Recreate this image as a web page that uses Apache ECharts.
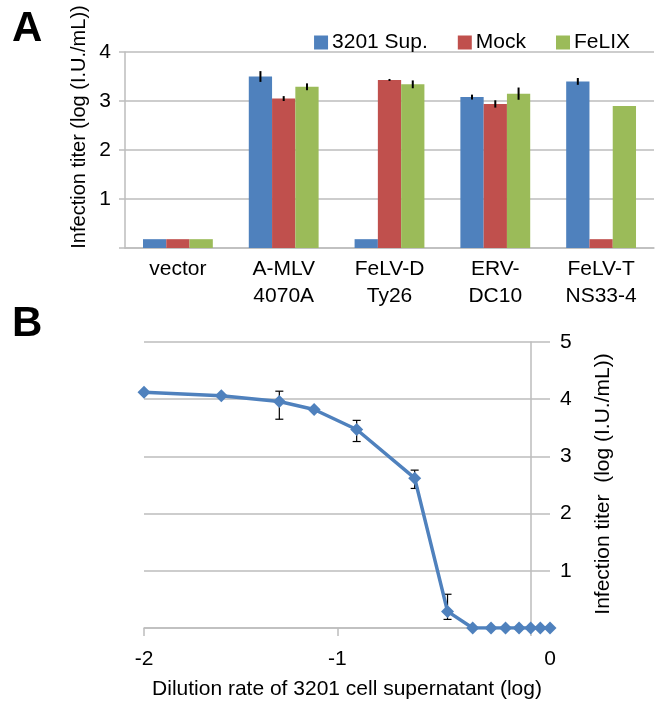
<!DOCTYPE html>
<html>
<head>
<meta charset="utf-8">
<script src="https://cdn.jsdelivr.net/npm/echarts@6/dist/echarts.min.js"></script>
<style>
html,body{margin:0;padding:0;background:#fff;}
#chart{width:665px;height:701px;}
</style>
</head>
<body>
<div id="chart"></div>
<script>
// ---- Panel A data ----
const categories = ['vector', 'A-MLV\n4070A', 'FeLV-D\nTy26', 'ERV-\nDC10', 'FeLV-T\nNS33-4'];
const seriesNames = ['3201 Sup.', 'Mock', 'FeLIX'];
const sup3201 = [0.18, 3.50, 0.18, 3.08, 3.40];
const mock    = [0.18, 3.05, 3.43, 2.94, 0.18];
const felix   = [0.18, 3.29, 3.34, 3.15, 2.90];
const sup3201Err = [0, 0.11, 0, 0.05, 0.07];
const mockErr    = [0, 0.05, 0.02, 0.075, 0];
const felixErr   = [0, 0.07, 0.08, 0.125, 0];
const yTicksA = [1, 2, 3, 4];

// ---- Panel B data ----
const dilutionLog = [-2, -1.6, -1.3, -1.12, -0.9, -0.6, -0.43, -0.3, -0.205, -0.13, -0.06, 0, 0.05, 0.1];
const titer       = [4.12, 4.06, 3.96, 3.82, 3.47, 2.62, 0.29, 0, 0, 0, 0, 0, 0, 0];
const titerLow    = [null, null, 3.65, null, 3.26, 2.44, 0.15, null, null, null, null, null, null, null];
const titerHigh   = [null, null, 4.14, null, 3.63, 2.76, 0.59, null, null, null, null, null, null, null];
const xTickValuesB = [-2, -1, 0];
const xLabelValuesB = [-2, -1, 0.1];
const xLabelTextsB = ['-2', '-1', '0'];
const yTicksB = [1, 2, 3, 4, 5];

const FONT = '"Liberation Sans", Arial, sans-serif';
const colors = ['#4F81BD', '#C0504D', '#9BBB59'];
const gridColor = '#BDBDBD';
const CAT_GAP = 0.34;

const chart = echarts.init(document.getElementById('chart'), null, {renderer: 'canvas'});

const barVals = [sup3201, mock, felix];
const barErrs = [sup3201Err, mockErr, felixErr];
const errDataA = [];
barVals.forEach((vals, s) => {
  vals.forEach((v, i) => {
    if (barErrs[s][i] > 0) errDataA.push([i, v, barErrs[s][i], s]);
  });
});

const errDataB = [];
dilutionLog.forEach((x, i) => {
  if (titerLow[i] != null) errDataB.push([x, titerLow[i], titerHigh[i]]);
});

const option = {
  animation: false,
  backgroundColor: '#fff',
  textStyle: {fontFamily: FONT},
  color: colors,
  legend: {
    data: seriesNames,
    right: 30,
    top: 27,
    itemWidth: 14,
    itemHeight: 14,
    itemGap: 30,
    icon: 'rect',
    textStyle: {fontFamily: FONT, fontSize: 21, color: '#000', padding: [0, 0, 0, -1]}
  },
  grid: [
    {left: 125, right: 11, top: 52, height: 196, containLabel: false},
    {left: 144, width: 406, top: 342, height: 286, containLabel: false}
  ],
  xAxis: [
    {
      type: 'category', gridIndex: 0, data: categories,
      axisLine: {lineStyle: {color: gridColor, width: 1.5}},
      axisTick: {show: false},
      axisLabel: {fontFamily: FONT, fontSize: 21, color: '#000', lineHeight: 27, margin: 8, interval: 0}
    },
    {
      type: 'value', gridIndex: 1, min: -2, max: 0.1,
      axisLine: {show: true, onZero: false, lineStyle: {color: gridColor, width: 1.5}},
      axisTick: {show: true, inside: false, length: 8, customValues: xTickValuesB, lineStyle: {color: gridColor, width: 1.5}},
      axisLabel: {
        fontFamily: FONT, fontSize: 21, color: '#000', margin: 21,
        customValues: xLabelValuesB,
        formatter: v => {
          const k = xLabelValuesB.findIndex(t => Math.abs(t - v) < 1e-9);
          return k >= 0 ? xLabelTextsB[k] : '';
        }
      },
      splitLine: {show: false},
      name: 'Dilution rate of 3201 cell supernatant (log)',
      nameLocation: 'middle',
      nameGap: 51,
      nameTextStyle: {fontFamily: FONT, fontSize: 21, color: '#000'}
    }
  ],
  yAxis: [
    {
      type: 'value', gridIndex: 0, min: 0, max: 4, interval: 1,
      axisLine: {show: true, lineStyle: {color: gridColor, width: 1.5}},
      axisTick: {show: true, length: 6, lineStyle: {color: gridColor, width: 1.5}},
      axisLabel: {fontFamily: FONT, fontSize: 21, color: '#000', margin: 14,
        formatter: v => (yTicksA.indexOf(v) >= 0 ? String(v) : '')},
      splitLine: {lineStyle: {color: gridColor, width: 1.5}}
    },
    {
      type: 'value', gridIndex: 1, min: 0, max: 5, interval: 1, position: 'right',
      axisLine: {show: true, lineStyle: {color: gridColor, width: 1.5}},
      axisTick: {show: false},
      axisLabel: {fontFamily: FONT, fontSize: 21, color: '#000', margin: 10,
        formatter: v => (yTicksB.indexOf(v) >= 0 ? String(v) : '')},
      splitLine: {lineStyle: {color: gridColor, width: 1.5}}
    }
  ],
  graphic: [
    {type: 'text', left: 12, top: 8, style: {text: 'A', font: 'bold 42px ' + FONT, fill: '#000'}},
    {type: 'text', left: 12, top: 303, style: {text: 'B', font: 'bold 42px ' + FONT, fill: '#000'}},
    {type: 'text', x: 79, y: 127, rotation: Math.PI / 2,
      style: {text: 'Infection titer (log (I.U./mL))', font: '20px ' + FONT, fill: '#000', align: 'center', verticalAlign: 'middle'}},
    {type: 'text', x: 603, y: 484, rotation: Math.PI / 2,
      style: {text: 'Infection titer  (log (I.U./mL))', font: '21px ' + FONT, fill: '#000', align: 'center', verticalAlign: 'middle'}}
  ],
  series: [
    ...seriesNames.map((name, s) => ({
      name: name, type: 'bar', xAxisIndex: 0, yAxisIndex: 0,
      data: barVals[s],
      barGap: '0%', barCategoryGap: (CAT_GAP * 100) + '%',
      itemStyle: {color: colors[s]},
      z: 2
    })),
    {
      type: 'custom', xAxisIndex: 0, yAxisIndex: 0, data: errDataA, z: 5,
      encode: {x: 0, y: 1},
      renderItem: (params, api) => {
        const ci = api.value(0), v = api.value(1), e = api.value(2), s = api.value(3);
        const band = api.size([1, 0])[0];
        const bw = band * (1 - CAT_GAP) / 3;
        const c = api.coord([ci, v]);
        const x = c[0] + (s - 1) * bw;
        const top = api.coord([ci, v + e])[1];
        const bot = api.coord([ci, v - e])[1];
        return {type: 'line', shape: {x1: x, y1: top, x2: x, y2: bot},
          style: {stroke: '#000', lineWidth: 2}};
      }
    },
    {
      type: 'custom', xAxisIndex: 1, yAxisIndex: 1, data: errDataB, z: 3,
      encode: {x: 0, y: [1, 2]},
      renderItem: (params, api) => {
        const x = api.value(0);
        const lo = api.coord([x, api.value(1)]);
        const hi = api.coord([x, api.value(2)]);
        const w = 4;
        return {type: 'group', children: [
          {type: 'line', shape: {x1: lo[0], y1: lo[1], x2: hi[0], y2: hi[1]}, style: {stroke: '#000', lineWidth: 1.2}},
          {type: 'line', shape: {x1: lo[0] - w, y1: lo[1], x2: lo[0] + w, y2: lo[1]}, style: {stroke: '#000', lineWidth: 1.2}},
          {type: 'line', shape: {x1: hi[0] - w, y1: hi[1], x2: hi[0] + w, y2: hi[1]}, style: {stroke: '#000', lineWidth: 1.2}}
        ]};
      }
    },
    {
      type: 'line', xAxisIndex: 1, yAxisIndex: 1,
      data: dilutionLog.map((x, i) => [x, titer[i]]),
      symbol: 'diamond', symbolSize: 13,
      lineStyle: {color: '#4F81BD', width: 3.5},
      itemStyle: {color: '#4F81BD'},
      z: 4
    }
  ]
};
chart.setOption(option);
</script>
</body>
</html>
